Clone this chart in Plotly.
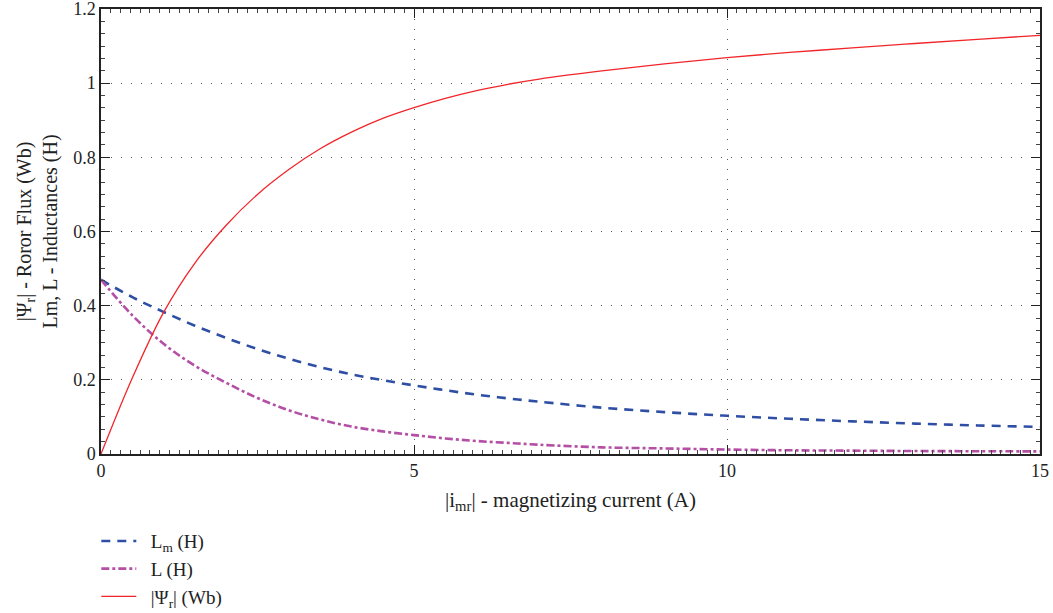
import plotly.graph_objects as go

# magnetizing current (A)
x_vals = [0, 0.5, 1, 1.5, 2, 2.5, 3, 3.5, 4, 4.5, 5, 5.5, 6, 6.5, 7, 8, 9, 10, 11, 12, 13, 14, 15]
# rotor flux |Psi_r| (Wb)
psi_r = [0, 0.205, 0.382, 0.515, 0.617, 0.700, 0.767, 0.823, 0.868, 0.905, 0.934, 0.959, 0.980,
         0.997, 1.011, 1.033, 1.052, 1.069, 1.083, 1.095, 1.107, 1.118, 1.129]
# magnetizing inductance Lm (H)
l_m = [0.47, 0.423, 0.383, 0.346, 0.313, 0.283, 0.257, 0.234, 0.215, 0.199, 0.185, 0.172, 0.160,
       0.150, 0.141, 0.125, 0.113, 0.103, 0.095, 0.088, 0.082, 0.077, 0.073]
# inductance L (H)
l_dyn = [0.47, 0.374, 0.297, 0.238, 0.192, 0.151, 0.118, 0.093, 0.074, 0.061, 0.051, 0.042, 0.035,
         0.030, 0.025, 0.018, 0.015, 0.012, 0.010, 0.009, 0.008, 0.0075, 0.007]

x_ticks = [0, 5, 10, 15]
y_ticks = [0, 0.2, 0.4, 0.6, 0.8, 1, 1.2]
y_tick_text = ["0", "0.2", "0.4", "0.6", "0.8", "1", "1.2"]

FONT = "Liberation Serif"
PAD = "\u00a0\u00a0"

fig = go.Figure()
fig.add_trace(go.Scatter(x=x_vals, y=l_m, mode="lines", name=PAD + "L<sub>m</sub> (H)",
                         line=dict(color="#2f4fa5", width=2.6, dash="9px,7px", shape="spline", smoothing=1)))
fig.add_trace(go.Scatter(x=x_vals, y=l_dyn, mode="lines", name=PAD + "L (H)",
                         line=dict(color="#b44fa6", width=2.6, dash="8px,3px,3px,3px", shape="spline", smoothing=1)))
fig.add_trace(go.Scatter(x=x_vals, y=psi_r, mode="lines", name=PAD + "|Ψ<sub>r</sub>| (Wb)",
                         line=dict(color="#f0262a", width=1.3, shape="spline", smoothing=1)))

axis_common = dict(
    showline=True, linecolor="#222", linewidth=1.5, mirror="ticks",
    ticks="inside", ticklen=9, tickcolor="#222", tickwidth=1.3,
    showgrid=True, gridcolor="#555", gridwidth=1, griddash="1px,9px",
    zeroline=False, automargin=False, ticklabeloverflow="allow",
    tickfont=dict(family=FONT, size=18, color="#222"),
)

fig.update_xaxes(range=[0, 15], tickvals=x_ticks, **axis_common,
                 minor=dict(ticks="inside", ticklen=4, dtick=5/32, tickcolor="#444", showgrid=False),
                 title=dict(text="|i<sub>mr</sub>| - magnetizing current (A)",
                            font=dict(family=FONT, size=21, color="#222"), standoff=12))
fig.update_yaxes(range=[0, 1.2], tickvals=y_ticks, ticktext=y_tick_text, **axis_common,
                 minor=dict(ticks="inside", ticklen=4, dtick=0.2/6, tickcolor="#444", showgrid=False),
                 title=dict(text="|Ψ<sub>r</sub>| - Roror Flux (Wb)<br>Lm, L - Inductances (H)",
                            font=dict(family=FONT, size=20, color="#222"), standoff=10))

fig.update_layout(
    width=1053, height=613,
    margin=dict(l=101, r=13, t=9, b=159, autoexpand=False),
    paper_bgcolor="white", plot_bgcolor="white",
    legend=dict(x=-0.005, y=-0.153, xanchor="left", yanchor="top",
                font=dict(family=FONT, size=19, color="#222"),
                bgcolor="rgba(0,0,0,0)", tracegroupgap=0, itemwidth=35),
    showlegend=True,
)

fig.write_html("out.html", config={"displayModeBar": False},
               post_script="document.body.style.margin='0';")
